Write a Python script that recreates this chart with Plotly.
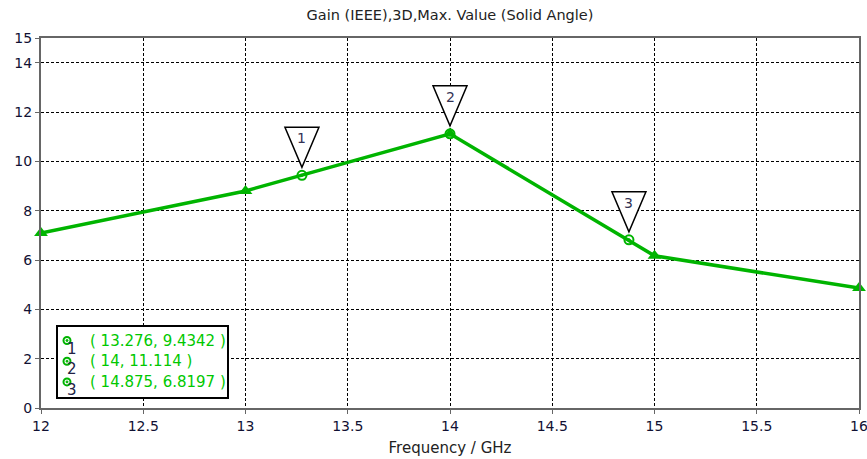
import plotly.graph_objects as go

freq = [12, 13, 14, 15, 16]
gain = [7.09, 8.80, 11.114, 6.17, 4.86]

marker_ids = ["1", "2", "3"]
marker_x = [13.276, 14, 14.875]
marker_y = [9.4342, 11.114, 6.8197]
marker_text = ["( 13.276, 9.4342 )", "( 14, 11.114 )", "( 14.875, 6.8197 )"]

x_ticks = [12, 12.5, 13, 13.5, 14, 14.5, 15, 15.5, 16]
y_ticks = [0, 2, 4, 6, 8, 10, 12, 14, 15]

GREEN = "rgb(0,180,0)"
FONT = "DejaVu Sans"

fig = go.Figure()
fig.add_trace(go.Scatter(x=freq, y=gain, mode="lines+markers",
                         line=dict(color=GREEN, width=3.5),
                         marker=dict(symbol="triangle-up", size=12, color=GREEN),
                         showlegend=False, hoverinfo="skip", cliponaxis=False))
fig.add_trace(go.Scatter(x=marker_x, y=marker_y, mode="markers",
                         marker=dict(symbol="circle-open-dot", size=9, color=GREEN,
                                     line=dict(width=2, color=GREEN)),
                         showlegend=False, hoverinfo="skip"))

shapes = []
annotations = []
for mid, mx, my in zip(marker_ids, marker_x, marker_y):
    shapes.append(dict(type="path", xref="x", yref="y", xsizemode="pixel", ysizemode="pixel",
                       xanchor=mx, yanchor=my,
                       path="M -17,48 L 17,48 L 0,8 Z",
                       line=dict(color="black", width=1.5), fillcolor="white", layer="above"))
    annotations.append(dict(x=mx, y=my, xref="x", yref="y", text=mid, showarrow=False,
                            yshift=37, font=dict(family=FONT, size=14, color="#333355")))

# marker legend box
def px_x(p):
    return (p - 41) / 818

def px_y(p):
    return (408 - p) / 370

shapes.append(dict(type="rect", xref="paper", yref="paper",
                   x0=px_x(57), x1=px_x(228), y0=px_y(398), y1=px_y(326),
                   line=dict(color="black", width=2), fillcolor="white", layer="above"))
for i, (mid, txt) in enumerate(zip(marker_ids, marker_text)):
    ypix = 340.5 + i * 20.7
    shapes.append(dict(type="circle", xref="paper", yref="paper", xsizemode="pixel", ysizemode="pixel",
                       xanchor=px_x(67), yanchor=px_y(ypix), x0=-3.5, x1=3.5, y0=-3.5, y1=3.5,
                       line=dict(color=GREEN, width=2), fillcolor="white", layer="above"))
    shapes.append(dict(type="circle", xref="paper", yref="paper", xsizemode="pixel", ysizemode="pixel",
                       xanchor=px_x(67), yanchor=px_y(ypix), x0=-1, x1=1, y0=-1, y1=1,
                       line=dict(color=GREEN, width=1), fillcolor=GREEN, layer="above"))
    annotations.append(dict(xref="paper", yref="paper", x=px_x(88), y=px_y(ypix),
                            xanchor="left", yanchor="middle", text=txt, showarrow=False,
                            font=dict(family=FONT, size=15, color="rgb(0,200,0)")))
    annotations.append(dict(xref="paper", yref="paper", x=px_x(71.5), y=px_y(ypix + 8),
                            xanchor="center", yanchor="middle", text=mid, showarrow=False,
                            font=dict(family=FONT, size=15, color="#222244")))

fig.update_layout(
    width=867, height=459,
    margin=dict(l=41, r=8, t=38, b=51, autoexpand=False),
    paper_bgcolor="white", plot_bgcolor="white",
    font=dict(family=FONT, size=14, color="#222222"),
    title=dict(text="Gain (IEEE),3D,Max. Value (Solid Angle)", xref="paper", x=0.5, xanchor="center",
               y=1 - 15 / 459, yanchor="middle", automargin=False,
               font=dict(family=FONT, size=14.5, color="#222222")),
    shapes=shapes, annotations=annotations,
    xaxis=dict(range=[12, 16], tickvals=x_ticks, ticktext=[f"{v:g}" for v in x_ticks],
               showgrid=True, gridcolor="black", griddash="3px,2px", gridwidth=1,
               showline=True, linecolor="#666666", linewidth=2, mirror=True, automargin=False,
               ticks="outside", ticklen=4, tickcolor="#666666", zeroline=False,
               ticklabeloverflow="allow",
               tickfont=dict(family=FONT, size=14, color="#111133"),
               title=dict(text="Frequency / GHz", standoff=10, font=dict(family=FONT, size=15))),
    yaxis=dict(range=[0, 15], tickvals=y_ticks, ticktext=[str(v) for v in y_ticks],
               showgrid=True, gridcolor="black", griddash="3px,2px", gridwidth=1,
               showline=True, linecolor="#666666", linewidth=2, mirror=True, automargin=False,
               ticks="outside", ticklen=4, tickcolor="#666666", zeroline=False,
               ticklabeloverflow="allow",
               tickfont=dict(family=FONT, size=14, color="#111133")),
)

fig.write_html("out.html", config={"displayModeBar": False},
               post_script="document.body.style.margin='0';document.body.style.overflow='hidden';")
